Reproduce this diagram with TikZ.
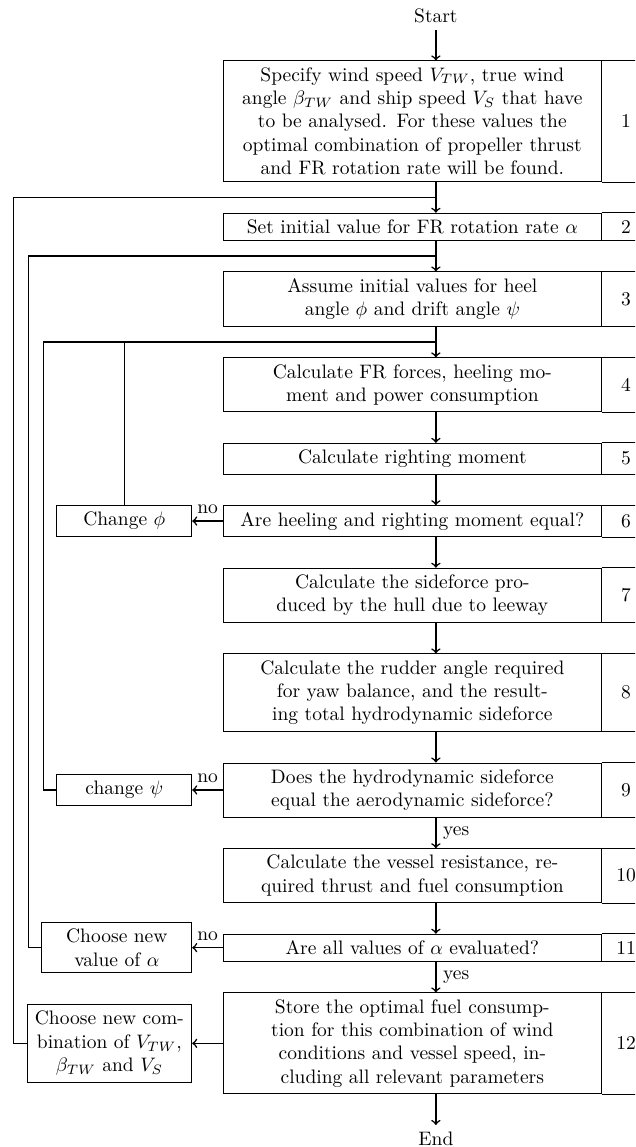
\documentclass[tikz,border=0pt]{standalone}
\usetikzlibrary{positioning,calc}
\begin{document}
\begin{tikzpicture}[
  mainbox/.style={draw, line width=0.4pt, text width=187.2pt, align=center, inner sep=3.33pt},
  sidebox/.style={draw, line width=0.4pt, align=center, inner sep=3.33pt},
  txt/.style={inner sep=3.33pt},
  conn/.style={->, line width=0.8pt},
  joinline/.style={line width=0.8pt},
  numline/.style={line width=0.4pt}
]
\def\G{15.8pt}
\def\W{24.5pt}
\useasboundingbox (0,0) rectangle (325.8pt,-588.4pt);
\clip (0,0) rectangle (325.8pt,-588.4pt);
\coordinate (col) at (223.6pt,0);

\node[txt, anchor=north] (start) at (223.6pt,-1.2pt) {Start};

\node[mainbox, anchor=north west] (b1) at (114.4pt,-31pt)
  {Specify wind speed $V_{TW}$, true wind\\ angle $\beta_{TW}$ and ship speed $V_S$ that have\\ to be analysed. For these values the\\ optimal combination of propeller thrust\\ and FR rotation rate will be found.};
\node[mainbox, below=\G of b1] (b2) {Set initial value for FR rotation rate $\alpha$};
\node[mainbox, below=\G of b2] (b3) {Assume initial values for heel\\ angle $\phi$ and drift angle $\psi$};
\node[mainbox, below=\G of b3] (b4) {Calculate FR forces, heeling mo-\\ment and power consumption};
\node[mainbox, below=\G of b4] (b5) {Calculate righting moment};
\node[mainbox, below=\G of b5] (b6) {Are heeling and righting moment equal?};
\node[mainbox, below=\G of b6] (b7) {Calculate the sideforce pro-\\duced by the hull due to leeway};
\node[mainbox, below=\G of b7] (b8) {Calculate the rudder angle required\\for yaw balance, and the result-\\ing total hydrodynamic sideforce};
\node[mainbox, below=\G of b8] (b9) {Does the hydrodynamic sideforce\\equal the aerodynamic sideforce?};
\node[mainbox, below=\G of b9] (b10) {Calculate the vessel resistance, re-\\quired thrust and fuel consumption};
\node[mainbox, below=\G of b10] (b11) {Are all values of $\alpha$ evaluated?};
\node[mainbox, below=\G of b11] (b12) {Store the optimal fuel consump-\\tion for this combination of wind\\conditions and vessel speed, in-\\cluding all relevant parameters};

\foreach \i in {1,...,12}{
  \draw[numline] (b\i.north east) -- ++(\W,0) |- (b\i.south east);
  \node[txt] (n\i) at ($(b\i.east)+(12.5pt,0)$) {\i};
}

\node[txt, anchor=north] (end) at ($(b12.south -| col)+(0,-\G)$) {End};

\node[sidebox, text width=62.6pt, left=\G of b6] (cphi) {Change $\phi$};
\node[sidebox, text width=62.6pt, left=\G of b9] (cpsi) {change $\psi$};
\node[sidebox, text width=70.3pt, left=\G of b11] (calpha) {Choose new\\value of $\alpha$};
\node[sidebox, text width=77.9pt, left=\G of b12] (ccomb) {Choose new com-\\bination of $V_{TW}$,\\$\beta_{TW}$ and $V_S$};

\coordinate (j1) at ($(b1.south -| col)!0.5!(b2.north -| col)$);
\coordinate (j2) at ($(b2.south -| col)!0.5!(b3.north -| col)$);
\coordinate (j3) at ($(b3.south -| col)!0.5!(b4.north -| col)$);

\draw[conn] (start.south) -- (b1.north -| col);
\draw[conn] (b1.south -| col) -- (b2.north -| col);
\draw[conn] (b2.south -| col) -- (b3.north -| col);
\draw[conn] (b3.south -| col) -- (b4.north -| col);
\draw[conn] (b4.south -| col) -- (b5.north -| col);
\draw[conn] (b5.south -| col) -- (b6.north -| col);
\draw[conn] (b6.south -| col) -- (b7.north -| col);
\draw[conn] (b7.south -| col) -- (b8.north -| col);
\draw[conn] (b8.south -| col) -- (b9.north -| col);
\draw[conn] (b9.south -| col) -- node[right]{yes} (b10.north -| col);
\draw[conn] (b10.south -| col) -- (b11.north -| col);
\draw[conn] (b11.south -| col) -- node[right]{yes} (b12.north -| col);
\draw[conn] (b12.south -| col) -- (end.north);

\draw[conn] (b6.west) -- node[above]{no} (cphi.east);
\draw[joinline] (cphi.north) |- (j3);
\draw[conn] (b9.west) -- node[above]{no} (cpsi.east);
\draw[joinline] (cpsi.west) -- ++(-6.7pt,0) |- (j3);
\draw[conn] (b11.west) -- node[above]{no} (calpha.east);
\draw[joinline] (calpha.west) -- ++(-6.7pt,0) |- (j2);
\draw[conn] (b12.west) -- (ccomb.east);
\draw[joinline] (ccomb.west) -- ++(-6.7pt,0) |- (j1);
\end{tikzpicture}
\end{document}
